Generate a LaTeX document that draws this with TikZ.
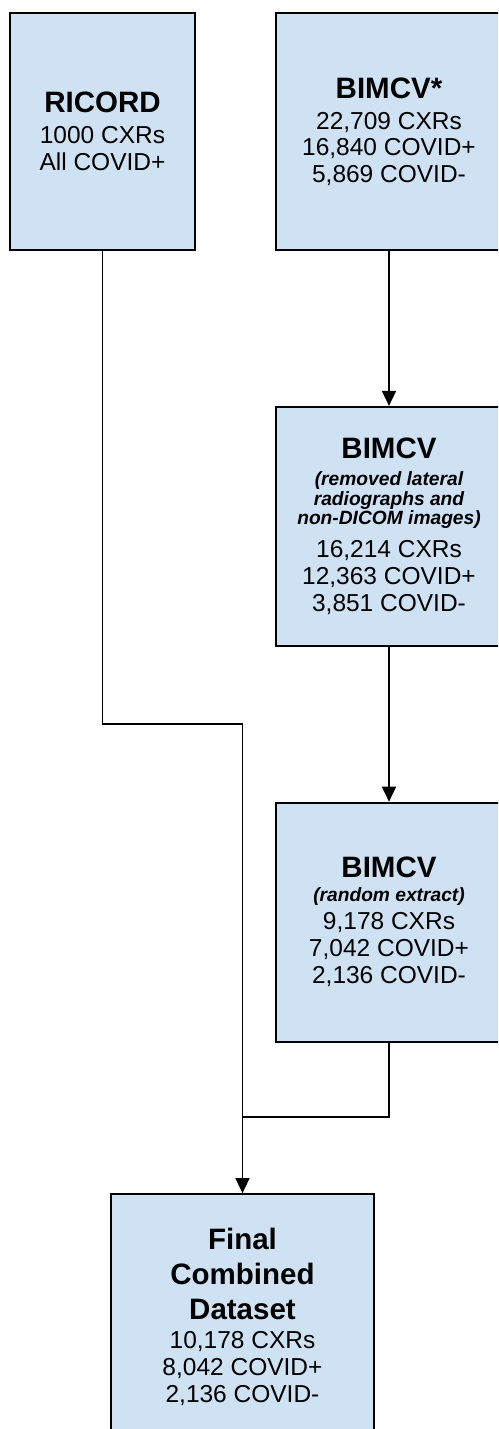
\documentclass[tikz,border=0pt]{standalone}
\usepackage{fontspec}
\setmainfont{Liberation Sans}
\usepackage{tikz}
\usetikzlibrary{arrows.meta,positioning}

\definecolor{boxblue}{RGB}{207,226,243}
\newcommand{\ttlfont}{\fontsize{29.5}{35}\selectfont\bfseries}
\newcommand{\notefont}{\fontsize{19.2}{20}\selectfont\bfseries\itshape}
\newcommand{\numfont}{\fontsize{24.5}{27}\selectfont}

\tikzset{
  dbox/.style={draw=black, line width=1.8pt, fill=boxblue, align=center,
    inner sep=0pt, font=\numfont},
  flow/.style={line width=1.7pt, draw=black},
  flowarr/.style={flow, -{Triangle[length=15pt,width=14pt]}}
}

\begin{document}
\begin{tikzpicture}[x=1pt, y=-1pt, node distance=155pt]
	\useasboundingbox (0,0) rectangle (498,1429);
	\clip (0,0) rectangle (498,1429);

	% sources
	\node [dbox, minimum width=185pt, minimum height=237pt] (ricord) at (102.5,131.5)
		{\ttlfont RICORD\\[4pt]1000 CXRs\\All COVID+};
	\node [dbox, minimum width=226pt, minimum height=237pt] (bimcv) at (389,131.5)
		{\ttlfont BIMCV*\\[4pt]22,709 CXRs\\[-1pt]16,840 COVID+\\5,869 COVID-};

	% filtering steps
	\node [dbox, minimum width=226pt, minimum height=239pt, below=of bimcv] (removed)
		{\ttlfont BIMCV\\[0pt]
		 \notefont (removed lateral\\[-7pt]
		 \notefont radiographs and\\[-8pt]
		 \notefont non-DICOM images)\\[6pt]
		 16,214 CXRs\\12,363 COVID+\\3,851 COVID-};
	\node [dbox, minimum width=226pt, minimum height=239pt, below=of removed] (extract)
		{\ttlfont BIMCV\\[-3pt]
		 \notefont (random extract)\\[1pt]
		 9,178 CXRs\\7,042 COVID+\\2,136 COVID-};

	% result
	\node [dbox, minimum width=263pt, minimum height=245pt] (final) at (242.5,1316.5)
		{\ttlfont Final\\[8pt]\ttlfont Combined\\[8pt]\ttlfont Dataset\\[2pt]
		 10,178 CXRs\\8,042 COVID+\\2,136 COVID-};

	\coordinate (join) at (final.north |- 0,1117);

	\draw [flowarr] (bimcv.south) -- (removed.north);
	\draw [flowarr] (removed.south) -- (extract.north);
	\draw [flowarr] (ricord.south) -- ++(0,473) -| (final.north);
	\draw [flow] (extract.south) |- (join);

\end{tikzpicture}
\end{document}
